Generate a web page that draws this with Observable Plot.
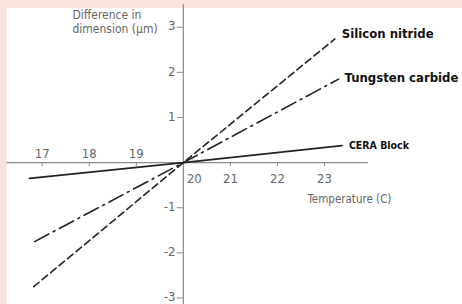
<!DOCTYPE html>
<html>
<head>
<meta charset="utf-8">
<script src="https://cdn.jsdelivr.net/npm/d3@7"></script>
<script src="https://cdn.jsdelivr.net/npm/@observablehq/plot@0.6"></script>
<style>
  html, body { margin: 0; padding: 0; background: #f8e4dc; width: 462px; height: 304px; overflow: hidden; }
  #chart { position: absolute; left: 7px; top: 8px; width: 455px; height: 296px; background: #fff; }
  #chart svg { display: block; overflow: visible; }
</style>
</head>
<body>
<div id="chart"></div>
<script>
// Data (temperature °C, difference in dimension µm)
const seriesNames = ["Silicon nitride", "Tungsten carbide", "CERA Block"];
const siliconT = [16.82, 20, 23.22];
const siliconD = [-2.75, 0, 2.74];
const tungstenT = [16.84, 20, 23.30];
const tungstenD = [-1.75, 0, 1.85];
const ceraT = [16.73, 20, 23.37];
const ceraD = [-0.35, 0, 0.375];

const xTicksAbove = [17, 18, 19];
const xTicksBelow = [21, 22, 23];
const xTickOrigin = [20];
const yTicks = [-3, -2, -1, 1, 2, 3];

const toRows = (name, ts, ds) => ts.map((t, i) => ({series: name, t, d: ds[i]}));
const silicon = toRows(seriesNames[0], siliconT, siliconD);
const tungsten = toRows(seriesNames[1], tungstenT, tungstenD);
const cera = toRows(seriesNames[2], ceraT, ceraD);

const axisColor = "#8a8a8a";
const labelColor = "#666";
const lineColor = "#222";
const font = "'Liberation Sans Narrow', 'DejaVu Sans Condensed', 'Open Sans', sans-serif";

const chart = Plot.plot({
  width: 455,
  height: 296,
  margin: 0,
  style: {background: "white", fontFamily: font, overflow: "visible"},
  x: {domain: [17, 23], range: [34.7, 317], axis: null},
  y: {domain: [-3, 3], range: [289.5, 18.7], axis: null},
  marks: [
    // axes lines
    Plot.ruleY([0], {x1: 16.25, x2: 23.93, stroke: axisColor, strokeWidth: 1.2}),
    Plot.ruleX([20], {y1: -3.3, y2: 3.5, stroke: axisColor, strokeWidth: 1.2}),
    // x ticks
    Plot.ruleX(xTicksAbove.concat(xTicksBelow), {x: d => d, y1: 0, y2: -0.09, stroke: axisColor}),
    // y ticks
    Plot.ruleY(yTicks, {y: d => d, x1: 20 - 0.13, x2: 20, stroke: axisColor}),
    // tick labels
    Plot.text(xTicksAbove, {x: d => d, y: 0, text: d => String(d), dy: -9, fill: labelColor, fontSize: 13}),
    Plot.text(xTicksBelow, {x: d => d, y: 0, text: d => String(d), dy: 16, fill: labelColor, fontSize: 13}),
    Plot.text(xTickOrigin, {x: d => d, y: 0, text: d => String(d), dx: 11, dy: 16, fill: labelColor, fontSize: 13}),
    Plot.text(yTicks, {x: 20, y: d => d, text: d => String(d), textAnchor: "end", dx: -8, dy: -1, fill: labelColor, fontSize: 13}),
    // axis titles
    Plot.text(["Difference in\ndimension (µm)"], {frameAnchor: "top-left", text: d => d, dx: 65, dy: 1, textAnchor: "start", lineAnchor: "top", lineHeight: 1.15, fill: labelColor, fontSize: 12}),
    Plot.text(["Temperature (C)"], {frameAnchor: "top-left", text: d => d, dx: 300, dy: 186, textAnchor: "start", fill: labelColor, fontSize: 11.5}),
    // data lines
    Plot.line(silicon, {x: "t", y: "d", stroke: lineColor, strokeWidth: 1.6, strokeDasharray: "7,4"}),
    Plot.line(tungsten, {x: "t", y: "d", stroke: lineColor, strokeWidth: 1.6, strokeDasharray: "16,5,2,5"}),
    Plot.line(cera, {x: "t", y: "d", stroke: lineColor, strokeWidth: 1.8}),
    // series labels at line ends
    Plot.text(silicon, Plot.selectLast({x: "t", y: "d", text: "series", textAnchor: "start", dx: 7, dy: -5, fill: "#111", fontWeight: "bold", fontSize: 13})),
    Plot.text(tungsten, Plot.selectLast({x: "t", y: "d", text: "series", textAnchor: "start", dx: 6, dy: -1, fill: "#111", fontWeight: "bold", fontSize: 13})),
    Plot.text(cera, Plot.selectLast({x: "t", y: "d", text: "series", textAnchor: "start", dx: 7, dy: 0, fill: "#111", fontWeight: "bold", fontSize: 10.5}))
  ]
});
document.getElementById("chart").appendChild(chart);
</script>
</body>
</html>
